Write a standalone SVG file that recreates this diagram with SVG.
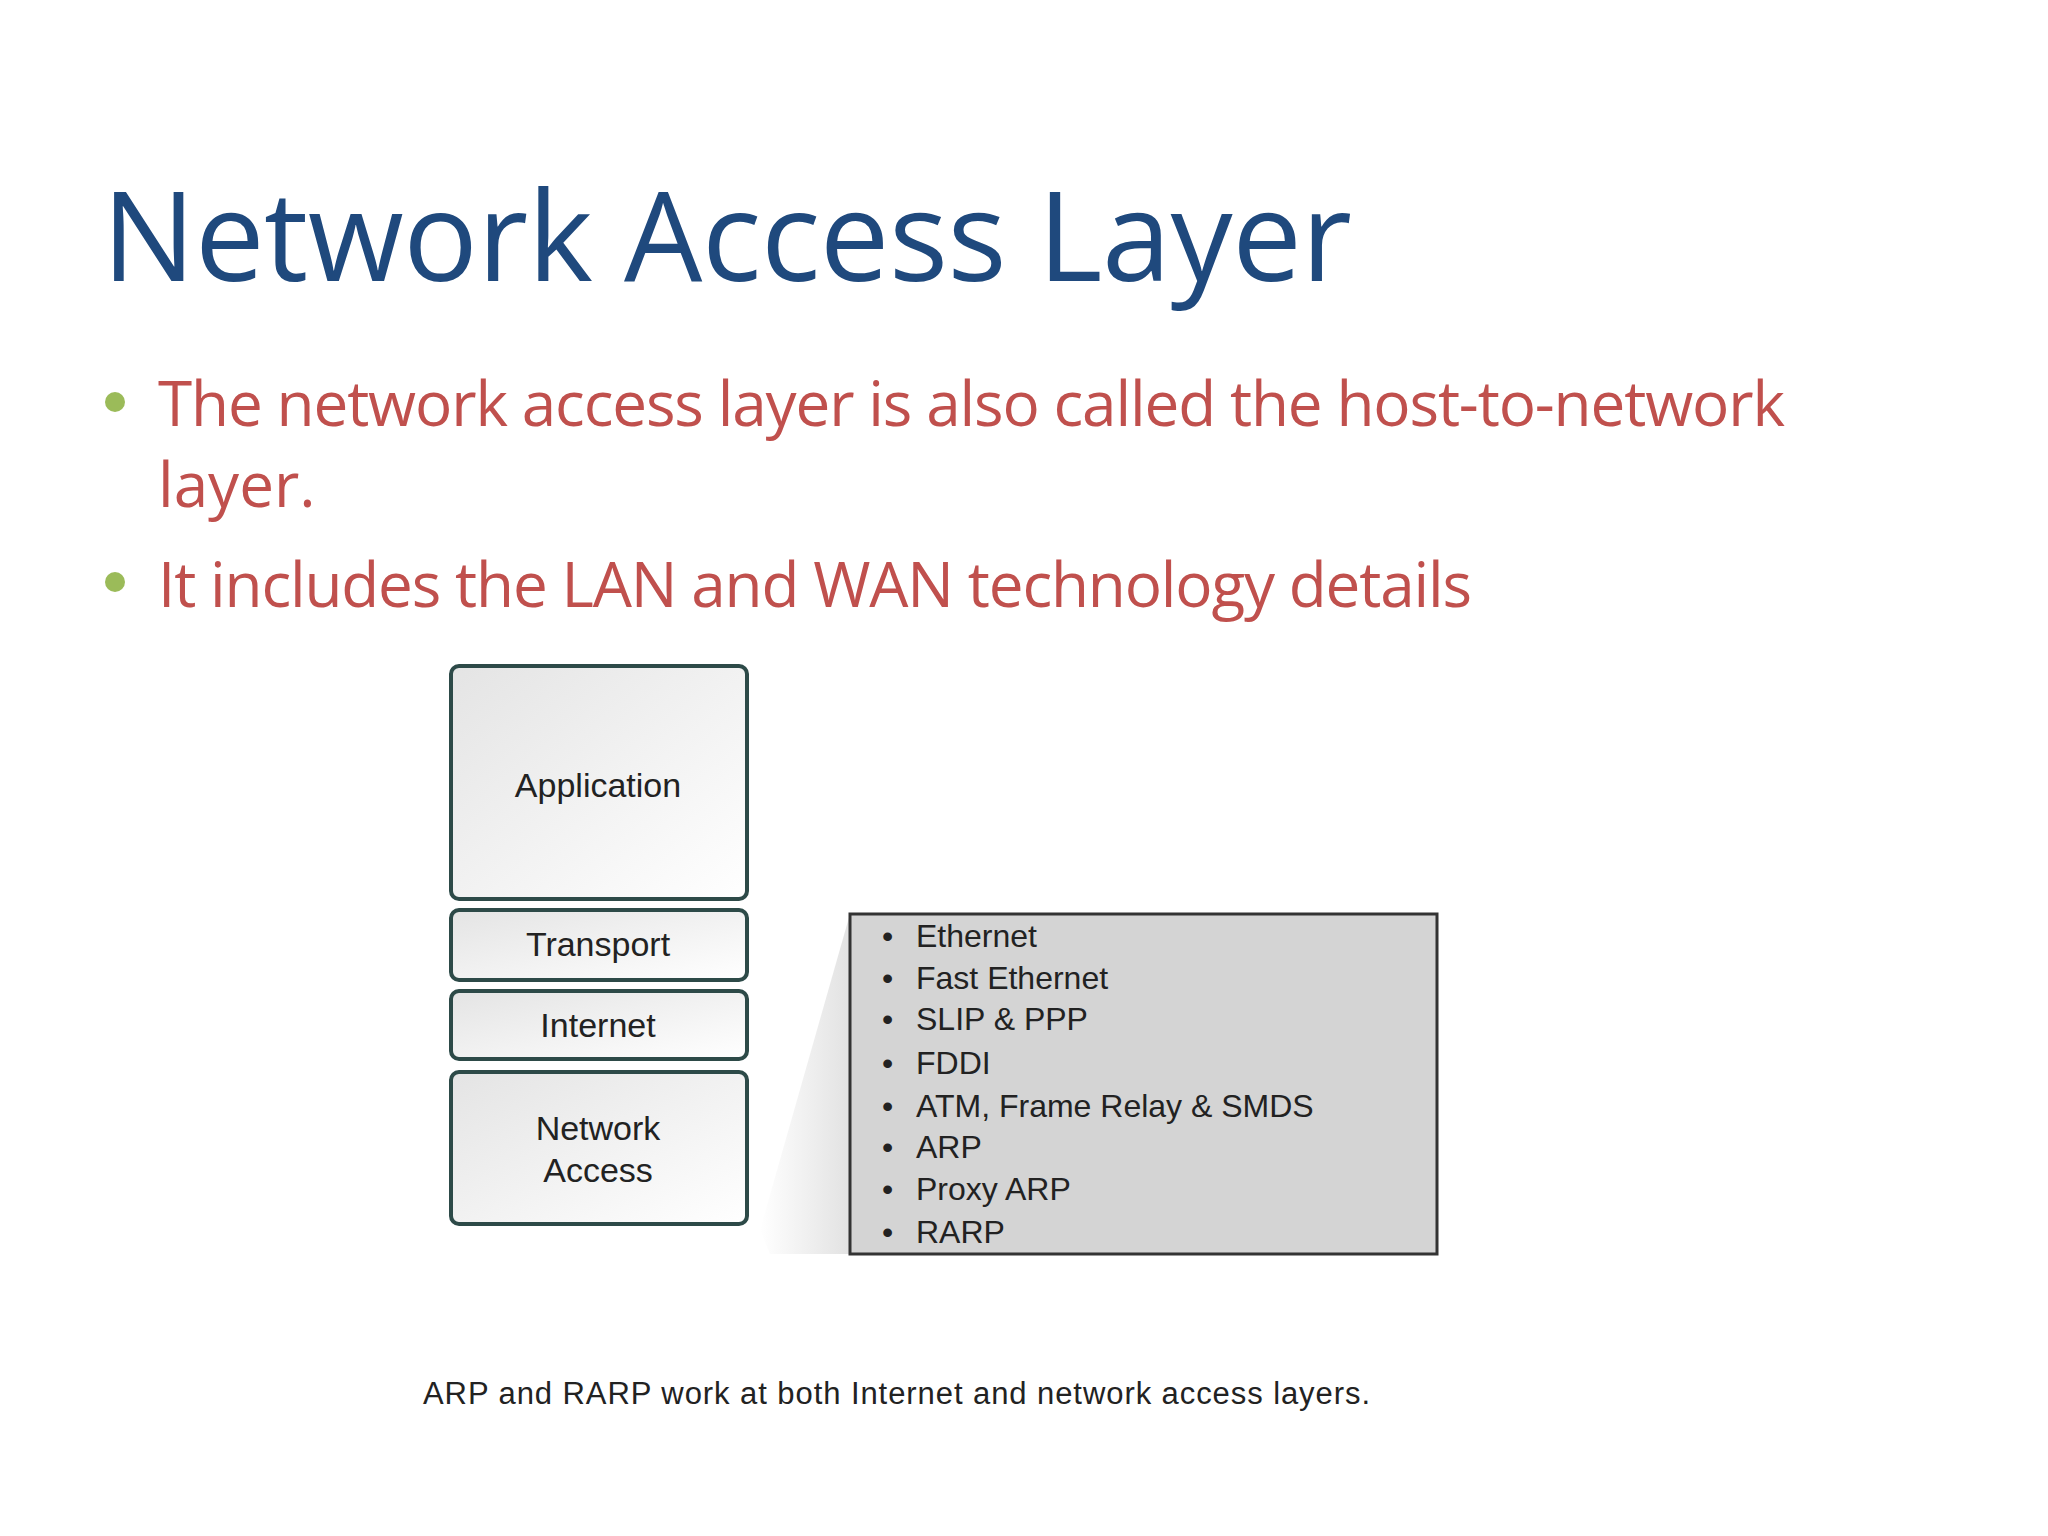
<svg xmlns="http://www.w3.org/2000/svg" width="2048" height="1536" viewBox="0 0 2048 1536">
<style>
.t{font-family:"Open Sans","Liberation Sans",sans-serif}
.b{font-family:"Open Sans","Liberation Sans",sans-serif;font-size:62px;fill:#c0504d}
.layer{fill:url(#g);stroke:#2d4a48;stroke-width:4}
.lt{font-family:"Liberation Sans",Arial,sans-serif;font-size:34px;fill:#222;text-anchor:middle}
.it{font-family:"Liberation Sans",Arial,sans-serif;font-size:32px;fill:#222}
</style>
<defs>
<linearGradient id="g" x1="0" y1="0" x2="1" y2="1"><stop offset="0" stop-color="#e4e4e4"/><stop offset="1" stop-color="#ffffff"/></linearGradient>
<linearGradient id="sh" x1="0" y1="0" x2="1" y2="0"><stop offset="0" stop-color="#ffffff"/><stop offset="1" stop-color="#e2e2e2"/></linearGradient>
</defs>
<rect width="2048" height="1536" fill="#fff"/>
<text class="t" x="102" y="281" font-size="124" fill="#1f497d" textLength="1250">Network Access Layer</text>
<circle cx="115" cy="402" r="10" fill="#9bbb59"/>
<text class="b" x="158" y="426" textLength="1627">The network access layer is also called the host-to-network</text>
<text class="b" x="158" y="507">layer.</text>
<circle cx="115" cy="582" r="10" fill="#9bbb59"/>
<text class="b" x="158" y="607" textLength="1314">It includes the LAN and WAN technology details</text>
<g id="shadow"><polygon points="760,1230 850,914 850,1254 770,1254" fill="url(#sh)"/></g>
<g id="application"><rect class="layer" x="451" y="666" width="296" height="233" rx="8"/><text class="lt" x="598" y="797">Application</text></g>
<g id="transport"><rect class="layer" x="451" y="910" width="296" height="70" rx="8"/><text class="lt" x="598" y="956">Transport</text></g>
<g id="internet"><rect class="layer" x="451" y="991" width="296" height="68" rx="8"/><text class="lt" x="598" y="1037">Internet</text></g>
<g id="network-access"><rect class="layer" x="451" y="1072" width="296" height="152" rx="8"/><text class="lt" x="598" y="1140">Network</text><text class="lt" x="598" y="1182">Access</text></g>
<g id="protocols">
<rect x="850" y="914" width="587" height="340" fill="#d4d4d4" stroke="#333" stroke-width="3"/>
<g class="it">
<text x="882" y="947">•</text><text x="916" y="947">Ethernet</text>
<text x="882" y="989">•</text><text x="916" y="989">Fast Ethernet</text>
<text x="882" y="1030">•</text><text x="916" y="1030">SLIP &amp; PPP</text>
<text x="882" y="1074">•</text><text x="916" y="1074">FDDI</text>
<text x="882" y="1117">•</text><text x="916" y="1117">ATM, Frame Relay &amp; SMDS</text>
<text x="882" y="1158">•</text><text x="916" y="1158">ARP</text>
<text x="882" y="1200">•</text><text x="916" y="1200">Proxy ARP</text>
<text x="882" y="1243">•</text><text x="916" y="1243">RARP</text>
</g>
</g>
<g id="connectors"/>
<text x="423" y="1404" font-family="Liberation Sans,Arial,sans-serif" font-size="31" fill="#222" textLength="947">ARP and RARP work at both Internet and network access layers.</text>
</svg>
